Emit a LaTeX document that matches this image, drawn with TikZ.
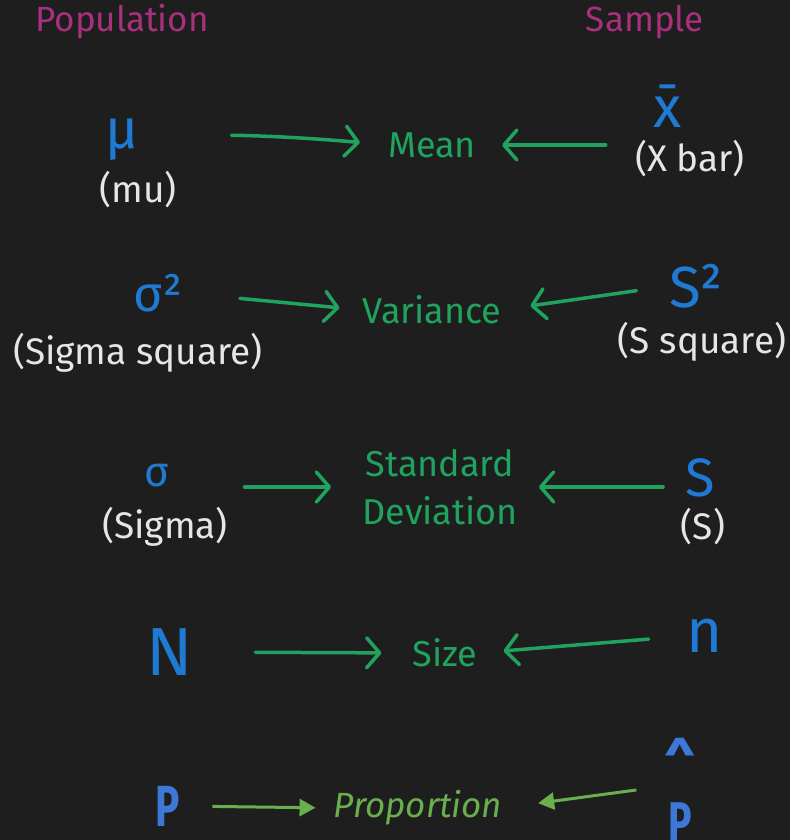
\documentclass[tikz,border=0pt]{standalone}
\usepackage{fontspec}
\setmainfont{Fira Sans}
\usetikzlibrary{arrows.meta}
\definecolor{bg}{HTML}{1E1E1E}
\definecolor{hdr}{HTML}{A8307C}
\definecolor{sym}{HTML}{1E7AD2}
\definecolor{sym2}{HTML}{3C78D8}
\definecolor{lbl}{HTML}{E6E6E6}
\definecolor{grn}{HTML}{1FA35E}
\definecolor{grn2}{HTML}{6AAF4E}
\begin{document}
\begin{tikzpicture}[x=1pt,y=-1pt,
  hdrtxt/.style={text=hdr,font=\fontsize{35}{37}\selectfont,inner sep=0},
  symb/.style={text=sym,inner sep=0},
  lbltxt/.style={text=lbl,font=\fontsize{37}{39}\selectfont,inner sep=0},
  term/.style={text=grn,font=\fontsize{36}{48}\selectfont,inner sep=0,align=center},
  arr/.style={draw=grn,line width=3.5pt,line cap=round,line join=round,
    -{Straight Barb[length=13pt,width=30pt,line width=3.5pt,round]}},
  arrb/.style={draw=grn2,line width=3pt,
    -{Triangle[length=16pt,width=17pt]}},
]
\fill[bg] (0,0) rectangle (790,840);
\useasboundingbox (0,0) rectangle (790,840);

% headers
\node[hdrtxt] (pop) at (122,22) {Population};
\node[hdrtxt] (samp) at (645,22) {Sample};

% row 1: mean
\node[symb,font=\fontsize{56}{58}\selectfont] (mu) at (122,140) {μ};
\node[lbltxt] (mul) at (138,190) {(mu)};
\node[term] (mean) at (432,145) {Mean};
\node[symb,font=\fontsize{58}{60}\selectfont] (xbar) at (668,106) {\=x};
\node[lbltxt] (xbarl) at (690,159) {(X bar)};
\draw[arr,shorten <=93pt,shorten >=28pt] (mu.east) to[bend left=4] (mean.west);
\draw[arr,shorten <=48pt,shorten >=26pt] (xbar.west |- mean.east) -- (mean.east);

% row 2: variance
\node[symb,font=\fontsize{50}{52}\selectfont] (sig2) at (158,293) {σ²};
\node[lbltxt] (sig2l) at (138,353) {(Sigma square)};
\node[term] (var) at (432,310) {Variance};
\node[symb,font=\fontsize{58}{60}\selectfont] (s2) at (696,286) {S²};
\node[lbltxt] (s2l) at (702,342) {(S square)};
\draw[arr,shorten <=57pt,shorten >=23pt] (sig2.east) -- (var.west);
\draw[arr,shorten <=33pt,shorten >=29pt] (s2.west) -- (var.east);

% row 3: standard deviation
\node[symb,font=\fontsize{42}{44}\selectfont] (sig) at (157,476) {σ};
\node[lbltxt] (sigl) at (165,527) {(Sigma)};
\node[term] (sd) at (440,487) {Standard\\Deviation};
\node[symb,font=\fontsize{54}{56}\selectfont] (s) at (700,478) {S};
\node[lbltxt] (sl) at (703,527) {(S)};
\draw[arr,shorten <=75pt,shorten >=31pt] (sig.east |- sd.west) -- (sd.west);
\draw[arr,shorten <=22pt,shorten >=21pt] (s.west |- sd.east) -- (sd.east);

% row 4: size
\node[symb,font=\fontsize{68}{70}\selectfont] (bigN) at (170,652) {N};
\node[term] (size) at (445,653) {Size};
\node[symb,font=\fontsize{62}{64}\selectfont] (smalln) at (705,636) {n};
\draw[arr,shorten <=62pt,shorten >=31pt] (bigN.east) -- (size.west);
\draw[arr,shorten <=38pt,shorten >=26pt] (smalln.west) -- (size.east);

% row 5: proportion
\node[text=sym2,inner sep=0,font=\fontsize{58}{60}\selectfont\bfseries] (bigP) at (168,806) {\scalebox{0.7}[1]{P}};
\node[text=grn2,inner sep=0,font=\fontsize{35}{37}\selectfont\itshape] (prop) at (418,808) {Proportion};
\node[text=sym2,inner sep=0,font=\fontsize{56}{58}\selectfont\bfseries] (phat) at (680,822) {\scalebox{0.7}[1]{P}};
\node[text=sym2,inner sep=0,font=\fontsize{56}{58}\selectfont\bfseries] (hat) at (680,762) {\^{}};
\draw[arrb,shorten <=32pt,shorten >=18pt] (bigP.east) -- (prop.west);
\draw[arrb,shorten <=32pt,shorten >=36pt] (phat.west |- bigP.north) -- (prop.east);
\end{tikzpicture}
\end{document}
